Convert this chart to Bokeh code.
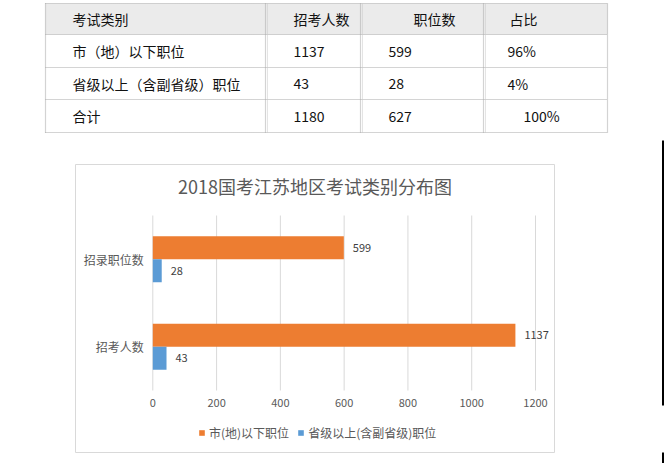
from bokeh.plotting import figure
from bokeh.models import (ColumnDataSource, Range1d, FixedTicker,
                          Legend, LegendItem, Label)
from bokeh.transform import dodge
from bokeh.layouts import column, row
from bokeh.embed import file_html
from bokeh.resources import INLINE
from bokeh.core.properties import value

# ---------------- data ----------------
table_header = ["考试类别", "招考人数", "职位数", "占比"]
row_names = ["市（地）以下职位", "省级以上（含副省级）职位", "合计"]
row_applicants = [1137, 43, 1180]
row_positions = [599, 28, 627]
row_share = ["96%", "4%", "100%"]

chart_title = "2018国考江苏地区考试类别分布图"
categories = ["招考人数", "招录职位数"]          # bottom to top
series_names = ["市(地)以下职位", "省级以上(含副省级)职位"]
city_values = [1137, 599]
province_values = [43, 28]
x_ticks = [0, 200, 400, 600, 800, 1000, 1200]

# ---------------- styles / layout ----------------
W = 664
PAGE_H = 463
T_H = 134                    # table figure height
C_H = PAGE_H - T_H           # chart figure height
STRIP_W = 3
CJK = "Noto Sans CJK SC"
ORANGE = "#ED7D31"
BLUE = "#5B9BD5"
GRID = "#D9D9D9"
TXT = "#595959"

# ---------------- table ----------------
tp = figure(width=W, height=T_H, x_range=Range1d(0, W), y_range=Range1d(T_H, 0),
            output_backend="svg", toolbar_location=None, min_border=0,
            x_axis_location=None, y_axis_location=None, frame_align=False)
tp.grid.visible = False
tp.outline_line_color = None

col_edges = [45, 265, 360, 483, 607]
row_edges = [3, 34, 67, 99, 132]

tp.quad(left=col_edges[0], right=col_edges[-1], top=row_edges[0], bottom=row_edges[1],
        fill_color="#EBEBEB", line_color=None)

tp.segment(x0=[col_edges[0]] * len(row_edges), x1=[col_edges[-1]] * len(row_edges),
           y0=row_edges, y1=row_edges,
           line_color="#A8A8A8", line_width=1.2, line_dash="1 1")
tp.segment(x0=col_edges, x1=col_edges,
           y0=[row_edges[0]] * len(col_edges), y1=[row_edges[-1]] * len(col_edges),
           line_color="#A8A8A8", line_width=1.2, line_dash="1 1")
inner = [e + 2 for e in col_edges[1:-1]]
tp.segment(x0=inner, x1=inner, y0=[row_edges[0]] * len(inner), y1=[row_edges[-1]] * len(inner),
           line_color="#C8C8C8", line_width=1, line_dash="1 1")

header_x = [72, 293, 413, 509]
body_x = [72, 293, 388]
share_x = [507, 507, 523]
row_cy = [(row_edges[i] + row_edges[i + 1]) / 2 for i in range(4)]

cell_x, cell_y, cell_t = [], [], []
for j, h in enumerate(table_header):
    cell_x.append(header_x[j]); cell_y.append(row_cy[0]); cell_t.append(h)
for i in range(len(row_names)):
    vals = [row_names[i], str(row_applicants[i]), str(row_positions[i])]
    for j, v in enumerate(vals):
        cell_x.append(body_x[j]); cell_y.append(row_cy[i + 1]); cell_t.append(v)
    cell_x.append(share_x[i]); cell_y.append(row_cy[i + 1]); cell_t.append(row_share[i])

tp.text(x=cell_x, y=cell_y, text=cell_t, text_font=value(CJK), text_font_size="14px",
        text_baseline="middle", text_align="left", text_color="#111111")

# ---------------- chart ----------------
# page-pixel geometry of the chart box and plot area
BOX_L, BOX_R, BOX_T, BOX_B = 75, 554, 164, 452
PLOT_L, PLOT_R, PLOT_T, PLOT_B = 152.3, 535.0, 215, 390
CW = W - STRIP_W

n_cat = len(categories)
kx = (PLOT_R - PLOT_L) / (x_ticks[-1] - x_ticks[0])
ky = (PLOT_B - PLOT_T) / n_cat
x_start = x_ticks[0] - (PLOT_L - BOX_L) / kx
x_end = x_ticks[-1] + (BOX_R - PLOT_R) / kx
y_start = -(BOX_B - PLOT_B) / ky
y_end = n_cat + (PLOT_T - BOX_T) / ky

p = figure(width=CW, height=C_H, x_range=Range1d(x_start, x_end), y_range=Range1d(y_start, y_end),
           output_backend="svg", toolbar_location=None, x_axis_location="above",
           min_border_left=BOX_L, min_border_right=CW - BOX_R,
           min_border_top=BOX_T - T_H, min_border_bottom=PAGE_H - BOX_B, frame_align=False)
p.outline_line_color = GRID
p.background_fill_color = "white"
p.border_fill_color = "white"
p.grid.visible = False

ypos = [i + 0.5 for i in range(n_cat)]
src = ColumnDataSource(dict(
    ypos=ypos,
    city=city_values,
    prov=province_values,
    city_txt=[str(v) for v in city_values],
    prov_txt=[str(v) for v in province_values],
))

# vertical gridlines over the plot area
p.segment(x0=x_ticks, x1=x_ticks, y0=[0] * len(x_ticks), y1=[n_cat] * len(x_ticks),
          line_color=GRID, line_width=1)

off = 0.131
bh = 0.262
r1 = p.hbar(y=dodge("ypos", off), left=0, right="city", height=bh,
            fill_color=ORANGE, line_color=None, source=src)
r2 = p.hbar(y=dodge("ypos", -off), left=0, right="prov", height=bh,
            fill_color=BLUE, line_color=None, source=src)

p.text(x="city", y=dodge("ypos", off), text="city_txt", x_offset=9,
       text_baseline="middle", text_font=value(CJK), text_font_size="11px",
       text_color="#404040", source=src)
p.text(x="prov", y=dodge("ypos", -off), text="prov_txt", x_offset=9,
       text_baseline="middle", text_font=value(CJK), text_font_size="11px",
       text_color="#404040", source=src)

xa = p.xaxis[0]
ya = p.yaxis[0]
xa.ticker = FixedTicker(ticks=x_ticks)
ya.ticker = FixedTicker(ticks=ypos)
ya.major_label_overrides = {yp: c for yp, c in zip(ypos, categories)}
for ax in (xa, ya):
    ax.axis_line_color = None
    ax.major_tick_line_color = None
    ax.minor_tick_line_color = None
    ax.major_tick_out = 0
    ax.minor_tick_out = 0
    ax.major_tick_in = 0
    ax.minor_tick_in = 0
    ax.major_label_text_font = CJK
    ax.major_label_text_color = TXT
xa.major_label_text_font_size = "11px"
xa.major_label_standoff = 0
xa.fixed_location = -(406 - PLOT_B) / ky
ya.major_label_text_font_size = "12px"
ya.major_label_standoff = 9
ya.fixed_location = 0

p.add_layout(Label(x=(BOX_R - BOX_L) / 2, y=BOX_B - 185, x_units="screen", y_units="screen",
                   text=chart_title, text_align="center", text_baseline="middle",
                   text_font=CJK, text_font_size="18px", text_color=TXT))

legend = Legend(items=[LegendItem(label=series_names[0], renderers=[r1]),
                       LegendItem(label=series_names[1], renderers=[r2])],
                location=(198 - BOX_L, 11.5), orientation="horizontal",
                glyph_width=7, glyph_height=7, label_standoff=4, spacing=8,
                padding=0, margin=0, border_line_color=None, background_fill_alpha=0,
                label_text_font=CJK, label_text_font_size="12px", label_text_color=TXT,
                label_height=12)
p.add_layout(legend)

# ---------------- dark strip at the right edge of the picture ----------------
sf = figure(width=STRIP_W, height=C_H, x_range=Range1d(0, STRIP_W), y_range=Range1d(PAGE_H, T_H),
            output_backend="svg", toolbar_location=None, min_border=0,
            x_axis_location=None, y_axis_location=None, frame_align=False)
sf.grid.visible = False
sf.outline_line_color = None
sf.quad(left=[0.5, 0.5], right=[STRIP_W, STRIP_W], top=[140, 452], bottom=[405, PAGE_H],
        fill_color="black", line_color=None)

layout = column(tp, row(p, sf, spacing=0), spacing=0)
open("out.html", "w").write(file_html(layout, INLINE))
